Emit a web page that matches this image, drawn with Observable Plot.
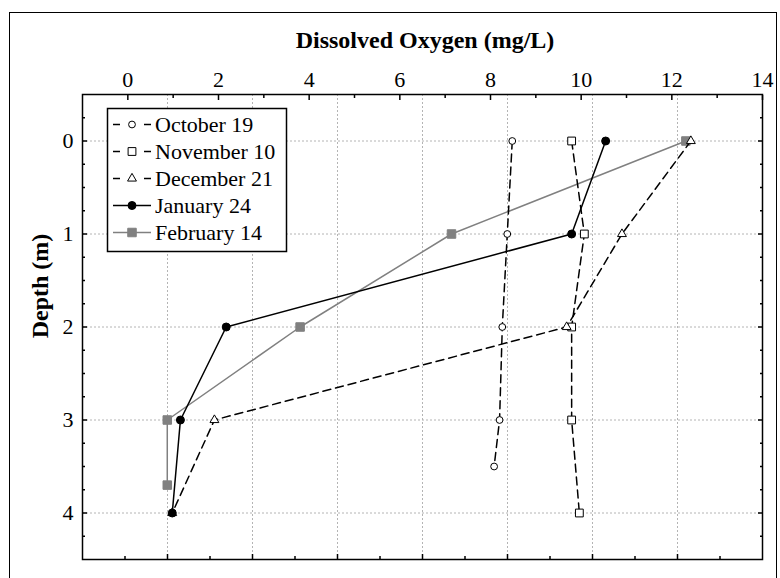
<!DOCTYPE html>
<html><head><meta charset="utf-8">
<script src="https://cdn.jsdelivr.net/npm/d3@7"></script>
<script src="https://cdn.jsdelivr.net/npm/@observablehq/plot@0.6"></script>
<style>
html,body{margin:0;padding:0;background:#fff;}
#wrap{position:relative;width:780px;height:578px;overflow:hidden;}
#border{position:absolute;left:9px;top:12px;width:768px;height:600px;border:1px solid #000;box-sizing:border-box;}
#wrap svg{position:absolute;left:0;top:0;}
</style></head><body><div id="wrap"><div id="border"></div></div>
<script>
// ---- data ----
const series = ["October 19", "November 10", "December 21", "January 24", "February 14"];
const octDepth = [0, 1, 2, 3, 3.5];
const octDO    = [8.48, 8.37, 8.26, 8.20, 8.08];
const novDepth = [0, 1, 2, 3, 4];
const novDO    = [9.79, 10.07, 9.79, 9.79, 9.96];
const decDepth = [0, 1, 2, 3, 4];
const decDO    = [12.42, 10.90, 9.68, 1.91, 0.98];
const janDepth = [0, 1, 2, 3, 4];
const janDO    = [10.54, 9.79, 2.17, 1.16, 0.98];
const febDepth = [0, 1, 2, 3, 3.7];
const febDO    = [12.31, 7.14, 3.80, 0.87, 0.87];
const xTickLabels = [0, 2, 4, 6, 8, 10, 12, 14];
const xMinorTicks = [1, 3, 5, 7, 9, 11, 13];
const yTickLabels = [0, 1, 2, 3, 4];
const xTitle = "Dissolved Oxygen (mg/L)";
const yTitle = "Depth (m)";

// ---- build table ----
const rows = [];
function add(name, depths, vals) { depths.forEach((d, i) => rows.push({series: name, depth: d, DO: vals[i]})); }
add("October 19", octDepth, octDO);
add("November 10", novDepth, novDO);
add("December 21", decDepth, decDO);
add("January 24", janDepth, janDO);
add("February 14", febDepth, febDO);

const styles = {
  "October 19":  {stroke: "#000", dash: "8,5", symbol: "circle", fill: "#fff", r: 3.4},
  "November 10": {stroke: "#000", dash: "8,5", symbol: "square", fill: "#fff", r: 4.4},
  "December 21": {stroke: "#000", dash: "8,5", symbol: "triangle", fill: "#fff", r: 3.3},
  "January 24":  {stroke: "#000", dash: null, symbol: "circle", fill: "#000", r: 4},
  "February 14": {stroke: "#808080", dash: null, symbol: "square", fill: "#808080", r: 4.8}
};
const drawOrder = ["February 14", "October 19", "November 10", "December 21", "January 24"];

const xDomain = [-1, 14];
const yDomain = [-0.5, 4.5];
// secondary (unlabelled) bottom axis: 8 equal divisions of the frame
const nDiv = 8;
const bottomMajor = d3.range(1, nDiv).map(i => xDomain[0] + i * (xDomain[1] - xDomain[0]) / nDiv);
const bottomMinor = d3.range(0, nDiv).map(i => xDomain[0] + (i + 0.5) * (xDomain[1] - xDomain[0]) / nDiv);
const yMinor = d3.range(-0.25, 4.5, 0.25).filter(v => !yTickLabels.includes(v));

const font = "'Liberation Serif', 'Times New Roman', serif";
const gridStyle = {stroke: "#b4b4b4", strokeOpacity: 1, strokeDasharray: "2,2"};
const noText = () => "";
const intFmt = d => String(d);

const marks = [
  Plot.gridX(bottomMajor, gridStyle),
  Plot.gridY(yTickLabels, gridStyle)
];
for (const s of drawOrder) {
  const st = styles[s];
  const data = rows.filter(r => r.series === s);
  marks.push(Plot.line(data, {x: "DO", y: "depth", stroke: st.stroke, strokeWidth: 1.5, strokeDasharray: st.dash || undefined}));
  marks.push(Plot.dot(data, {x: "DO", y: "depth", symbol: st.symbol, r: st.r, fill: st.fill, stroke: st.stroke, strokeWidth: 1}));
}
marks.push(
  Plot.frame({stroke: "#000", strokeWidth: 1.5}),
  Plot.axisX(xTickLabels, {anchor: "top", tickSize: 0, tickPadding: 8, fontSize: 22, tickFormat: intFmt, label: null}),
  Plot.axisX(xTickLabels, {anchor: "top", tickSize: -5, strokeWidth: 1.5, tickFormat: noText, label: null}),
  Plot.axisX(xMinorTicks, {anchor: "top", tickSize: -3, strokeWidth: 1.5, tickFormat: noText, label: null}),
  Plot.axisX(bottomMajor, {anchor: "bottom", tickSize: -5, strokeWidth: 1.5, tickFormat: noText, label: null}),
  Plot.axisX(bottomMinor, {anchor: "bottom", tickSize: -3, strokeWidth: 1.5, tickFormat: noText, label: null}),
  Plot.axisY(yTickLabels, {anchor: "left", tickSize: 0, tickPadding: 9, fontSize: 22, tickFormat: intFmt, label: null}),
  Plot.axisY(yTickLabels, {anchor: "left", tickSize: -5, strokeWidth: 1.5, tickFormat: noText, label: null}),
  Plot.axisY(yMinor, {anchor: "left", tickSize: -3, strokeWidth: 1.5, tickFormat: noText, label: null}),
  Plot.axisY(yTickLabels, {anchor: "right", tickSize: -5, strokeWidth: 1.5, tickFormat: noText, label: null}),
  Plot.axisY(yMinor, {anchor: "right", tickSize: -3, strokeWidth: 1.5, tickFormat: noText, label: null})
);

const chart = Plot.plot({
  width: 780, height: 578,
  marginLeft: 82, marginRight: 18, marginTop: 94, marginBottom: 19,
  x: {domain: xDomain},
  y: {domain: yDomain, reverse: true},
  style: {fontFamily: font, background: "transparent", color: "#000"},
  marks
});

const svg = d3.select(chart);
// ---- axis titles ----
svg.append("text").attr("x", 425).attr("y", 40).attr("dy", "0.35em")
  .attr("text-anchor", "middle").attr("font-family", font).attr("font-weight", "bold")
  .attr("font-size", 24).attr("fill", "#000").text(xTitle);
svg.append("text").attr("transform", "translate(40,286) rotate(-90)").attr("dy", "0.35em")
  .attr("text-anchor", "middle").attr("font-family", font).attr("font-weight", "bold")
  .attr("font-size", 24).attr("fill", "#000").text(yTitle);

// ---- legend ----
const lg = svg.append("g").attr("font-family", font).attr("font-size", 22).attr("text-anchor", "start");
lg.append("rect").attr("x", 107.5).attr("y", 108.5).attr("width", 179).attr("height", 143)
  .attr("fill", "#fff").attr("stroke", "#000").attr("stroke-width", 1.5);
const symType = {circle: d3.symbolCircle, square: d3.symbolSquare, triangle: d3.symbolTriangle};
series.forEach((s, i) => {
  const st = styles[s];
  const y = 124.5 + i * 27;
  if (st.dash) {
    lg.append("line").attr("x1", 113).attr("x2", 120).attr("y1", y).attr("y2", y).attr("stroke", st.stroke).attr("stroke-width", 1.5);
    lg.append("line").attr("x1", 144).attr("x2", 151).attr("y1", y).attr("y2", y).attr("stroke", st.stroke).attr("stroke-width", 1.5);
  } else {
    lg.append("line").attr("x1", 113).attr("x2", 151).attr("y1", y).attr("y2", y).attr("stroke", st.stroke).attr("stroke-width", 1.5);
  }
  lg.append("path").attr("transform", `translate(132,${y})`)
    .attr("d", d3.symbol(symType[st.symbol], Math.PI * st.r * st.r)())
    .attr("fill", st.fill).attr("stroke", st.stroke).attr("stroke-width", 1);
  lg.append("text").attr("x", 155).attr("y", y).attr("dy", "0.35em").attr("text-anchor", "start").attr("fill", "#000").text(s);
});

document.getElementById("wrap").appendChild(chart);
</script>
</body></html>
